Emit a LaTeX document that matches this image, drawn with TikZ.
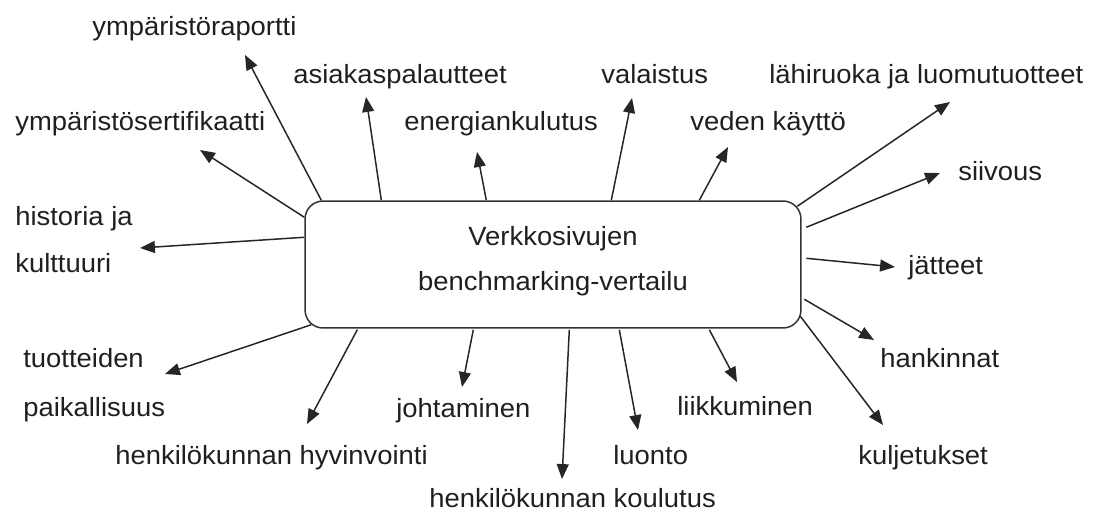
\documentclass[tikz,border=0pt]{standalone}
\usepackage{fontspec}
\setmainfont{Liberation Sans}[FakeStretch=1.04]
\usetikzlibrary{arrows.meta,calc}

\begin{document}
\begin{tikzpicture}[x=0.02cm, y=-0.02cm,
  lbl/.style={anchor=base west, inner sep=0pt, font=\fontsize{15}{18}\selectfont, text=black!88},
  hub/.style={draw=black!80, line width=0.85pt, rounded corners=0.36cm,
    minimum width=9.92cm, minimum height=2.54cm, inner sep=0pt, align=center,
    font=\fontsize{15}{25.5}\selectfont, text=black!88, text depth=7.3pt},
  arr/.style={-{Triangle[length=8.5pt,width=6.8pt]}, line width=0.85pt, black!85}]
  \useasboundingbox (0,0) rectangle (1094,514);
  % Central box
  \node[hub] (box) at (553,264.5) {Verkkosivujen\\benchmarking-vertailu};
  % Labels above the box
  \node[lbl] (raportti) at (92,35) {ympäristöraportti};
  \node[lbl] (palaute) at (293,83) {asiakaspalautteet};
  \node[lbl] (valaistus) at (601,83) {valaistus};
  \node[lbl] (lahiruoka) at (769,83) {lähiruoka ja luomutuotteet};
  \node[lbl] (sertifikaatti) at (15,130) {ympäristösertifikaatti};
  \node[lbl] (energia) at (404,130) {energiankulutus};
  \node[lbl] (vesi) at (690,130) {veden käyttö};
  \node[lbl] (siivous) at (958,180) {siivous};
  % Labels at the sides
  \node[lbl] (historia) at (15,225) {historia ja};
  \node[lbl] (kulttuuri) at (15,272) {kulttuuri};
  \node[lbl] (jatteet) at (908,274) {jätteet};
  \node[lbl] (tuotteiden) at (23,367) {tuotteiden};
  \node[lbl] (paikallisuus) at (23,416) {paikallisuus};
  \node[lbl] (hankinnat) at (880,367) {hankinnat};
  % Labels below the box
  \node[lbl] (johtaminen) at (396,417) {johtaminen};
  \node[lbl] (liikkuminen) at (677,415) {liikkuminen};
  \node[lbl] (hyvinvointi) at (115,464) {henkilökunnan hyvinvointi};
  \node[lbl] (luonto) at (613,464) {luonto};
  \node[lbl] (kuljetukset) at (858,464) {kuljetukset};
  \node[lbl] (koulutus) at (429,507) {henkilökunnan koulutus};
  % Arrow tips
  \coordinate (raportti-tip) at (245,55);
  \coordinate (sertifikaatti-tip) at (200,150);
  \coordinate (historia-tip) at (140,248);
  \coordinate (palaute-tip) at (366,97);
  \coordinate (energia-tip) at (477,152);
  \coordinate (valaistus-tip) at (632,98);
  \coordinate (vesi-tip) at (728,147);
  \coordinate (lahiruoka-tip) at (950,102);
  \coordinate (siivous-tip) at (940,173);
  \coordinate (jatteet-tip) at (895,267);
  \coordinate (hankinnat-tip) at (874,340);
  \coordinate (kuljetukset-tip) at (883,425);
  \coordinate (liikkuminen-tip) at (737,382);
  \coordinate (luonto-tip) at (638,430);
  \coordinate (koulutus-tip) at (562,479);
  \coordinate (johtaminen-tip) at (462,387);
  \coordinate (hyvinvointi-tip) at (307,424);
  \coordinate (tuotteiden-tip) at (165,374);
  % Arrows from the top and left side
  \draw[arr] ($(box.north west)+(17,0)$) -- (raportti-tip);
  \draw[arr] ($(box.north west)+(0,17)$) -- (sertifikaatti-tip);
  \draw[arr] ($(box.north west)+(0,37)$) -- (historia-tip);
  \draw[arr] ($(box.north west)+(77,0)$) -- (palaute-tip);
  \draw[arr] ($(box.north west)+(182,0)$) -- (energia-tip);
  \draw[arr] ($(box.north west)+(307,0)$) -- (valaistus-tip);
  \draw[arr] ($(box.north west)+(395,0)$) -- (vesi-tip);
  % Arrows from the right side
  \draw[arr] ($(box.north west)+(493,6)$) -- (lahiruoka-tip);
  \draw[arr] ($(box.north west)+(502,27)$) -- (siivous-tip);
  \draw[arr] ($(box.north west)+(502,58)$) -- (jatteet-tip);
  \draw[arr] ($(box.north west)+(500,99)$) -- (hankinnat-tip);
  \draw[arr] ($(box.north west)+(496,116)$) -- (kuljetukset-tip);
  % Arrows from the bottom
  \draw[arr] ($(box.south west)+(405,1)$) -- (liikkuminen-tip);
  \draw[arr] ($(box.south west)+(315,1)$) -- (luonto-tip);
  \draw[arr] ($(box.south west)+(265,1)$) -- (koulutus-tip);
  \draw[arr] ($(box.south west)+(169,1)$) -- (johtaminen-tip);
  \draw[arr] ($(box.south west)+(53,1)$) -- (hyvinvointi-tip);
  \draw[arr] ($(box.south west)+(7,-4)$) -- (tuotteiden-tip);
\end{tikzpicture}
\end{document}
